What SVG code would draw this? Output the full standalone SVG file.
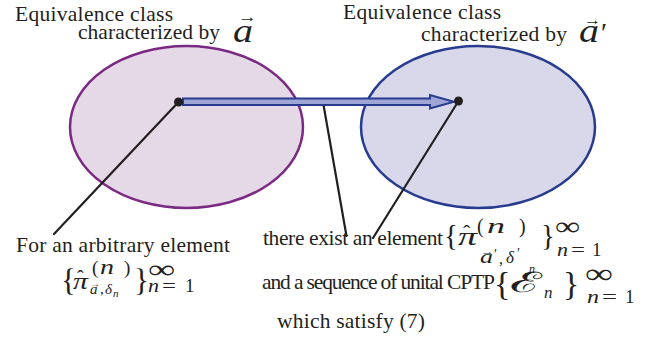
<svg xmlns="http://www.w3.org/2000/svg" width="668" height="346" viewBox="0 0 668 346">
<style>
.t{font-family:"Liberation Serif","Times New Roman",serif;fill:#231f20;font-size:21.5px}
.m{font-family:"Liberation Serif","Times New Roman",serif;fill:#231f20;font-style:italic}
.r{font-family:"Liberation Serif","Times New Roman",serif;fill:#231f20}
.ln{stroke:#231f20;stroke-width:2.2;fill:none;stroke-linecap:round}
.dot{fill:#231f20}
</style>
<rect width="668" height="346" fill="#ffffff"/>
<g id="class-a">
<ellipse cx="186.5" cy="127" rx="116.5" ry="81" fill="#e5d9e7" stroke="#7b2a83" stroke-width="2.5"/>
<text class="t" x="15" y="21" textLength="158">Equivalence class</text>
<text class="t" x="78" y="38.5" textLength="142">characterized by</text>
<text class="m" x="233" y="41.5" font-size="34" textLength="20" lengthAdjust="spacingAndGlyphs">a</text>
<text class="r" x="238" y="22" font-size="16" textLength="19" lengthAdjust="spacingAndGlyphs">→</text>
</g>
<g id="class-a-prime">
<ellipse cx="478" cy="127" rx="117" ry="81" fill="#d8d8ea" stroke="#283b8f" stroke-width="2.5"/>
<text class="t" x="343" y="18.5" textLength="158">Equivalence class</text>
<text class="t" x="421" y="40.5" textLength="146">characterized by</text>
<text class="m" x="579" y="42" font-size="34" textLength="20" lengthAdjust="spacingAndGlyphs">a</text>
<text class="r" x="584" y="24.5" font-size="16" textLength="17" lengthAdjust="spacingAndGlyphs">→</text>
<text class="r" x="601" y="42" font-size="28">′</text>
</g>
<g id="connectors">
<line class="ln" x1="178.5" y1="102" x2="54" y2="234"/>
<line class="ln" x1="323" y1="102" x2="346.5" y2="236"/>
<line class="ln" x1="458.5" y1="101" x2="373" y2="238"/>
<path d="M183,98.5 H430 V95 L454,101.7 L430,108.4 V105 H183 Z" fill="#9fa5d5" stroke="#283b8f" stroke-width="2" stroke-linejoin="miter"/>
<circle class="dot" cx="178.5" cy="102" r="4.5"/>
<circle class="dot" cx="458.5" cy="101" r="4.5"/>
</g>
<g id="element-a">
<text class="t" x="16" y="252" textLength="214">For an arbitrary element</text>
<text class="r" x="61" y="291" font-size="31">{</text>
<text class="m" x="73" y="289" font-size="23" textLength="15" lengthAdjust="spacingAndGlyphs">π</text>
<text class="r" x="77" y="285" font-size="20">ˆ</text>
<text class="r" x="92" y="274" font-size="19">(</text>
<text class="m" x="100" y="274" font-size="21" textLength="14" lengthAdjust="spacingAndGlyphs">n</text>
<text class="r" x="124" y="274" font-size="19">)</text>
<text class="r" x="90" y="287" font-size="10" textLength="10" lengthAdjust="spacingAndGlyphs">→</text>
<text class="m" x="90" y="294" font-size="15">a</text>
<text class="r" x="100" y="294" font-size="15">,</text>
<text class="m" x="105" y="294" font-size="15">δ</text>
<text class="m" x="113" y="297" font-size="11">n</text>
<text class="r" x="134" y="291" font-size="31">}</text>
<text class="r" x="148" y="278" font-size="26" textLength="27" lengthAdjust="spacingAndGlyphs">∞</text>
<text class="m" x="148" y="292" font-size="19" textLength="11" lengthAdjust="spacingAndGlyphs">n</text>
<text class="r" x="162" y="292" font-size="19" textLength="14" lengthAdjust="spacingAndGlyphs">=</text>
<text class="r" x="185" y="292" font-size="19">1</text>
</g>
<g id="element-a-prime">
<text class="t" x="263" y="245" font-size="20.5" textLength="180">there exist an element</text>
<text class="r" x="444" y="245" font-size="29">{</text>
<text class="m" x="458" y="245" font-size="25" textLength="19" lengthAdjust="spacingAndGlyphs">π</text>
<text class="r" x="463" y="240" font-size="22">ˆ</text>
<text class="r" x="477" y="233" font-size="20">(</text>
<text class="m" x="487" y="233" font-size="22" textLength="18" lengthAdjust="spacingAndGlyphs">n</text>
<text class="r" x="519" y="233" font-size="20">)</text>
<text class="r" x="481" y="255" font-size="11" textLength="13" lengthAdjust="spacingAndGlyphs">→</text>
<text class="m" x="480" y="263" font-size="19" textLength="13" lengthAdjust="spacingAndGlyphs">a</text>
<text class="r" x="494" y="259" font-size="14">′</text>
<text class="r" x="499" y="264" font-size="16">,</text>
<text class="m" x="506" y="263" font-size="17">δ</text>
<text class="r" x="517" y="258" font-size="14">′</text>
<text class="m" x="529" y="273" font-size="12">n</text>
<text class="r" x="541" y="245" font-size="29">}</text>
<text class="r" x="555" y="235" font-size="26" textLength="25" lengthAdjust="spacingAndGlyphs">∞</text>
<text class="m" x="557" y="256" font-size="19" textLength="11" lengthAdjust="spacingAndGlyphs">n</text>
<text class="r" x="571" y="256" font-size="19" textLength="14" lengthAdjust="spacingAndGlyphs">=</text>
<text class="r" x="592" y="256" font-size="19">1</text>
</g>
<g id="cptp">
<text class="t" x="262" y="289" font-size="19" textLength="233">and a sequence of unital CPTP</text>
<text class="r" x="494" y="295" font-size="34">{</text>
<text class="r" x="510" y="292" font-size="28" font-family="DejaVu Serif, DejaVu Sans, serif" textLength="32" lengthAdjust="spacingAndGlyphs">ℰ</text>
<text class="m" x="544" y="298" font-size="17">n</text>
<text class="r" x="563" y="295" font-size="34">}</text>
<text class="r" x="585" y="283" font-size="28" textLength="28" lengthAdjust="spacingAndGlyphs">∞</text>
<text class="m" x="587" y="303" font-size="19" textLength="12" lengthAdjust="spacingAndGlyphs">n</text>
<text class="r" x="602" y="303" font-size="19" textLength="15" lengthAdjust="spacingAndGlyphs">=</text>
<text class="r" x="625" y="303" font-size="19">1</text>
<text class="t" x="277" y="328" font-size="22" textLength="148">which satisfy (7)</text>
</g>
</svg>
